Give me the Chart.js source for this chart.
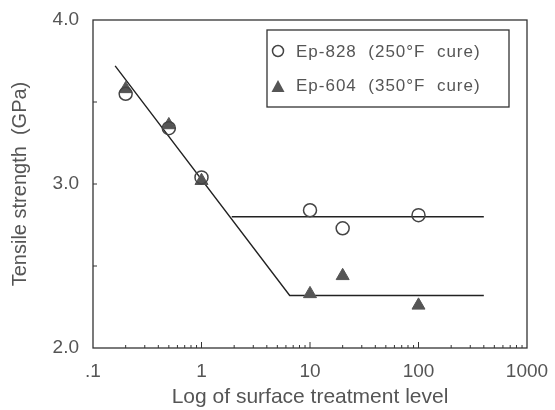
<!DOCTYPE html>
<html>
<head>
<meta charset="utf-8">
<script src="https://cdn.jsdelivr.net/npm/chart.js@4/dist/chart.umd.min.js"></script>
<style>
  html, body { margin: 0; padding: 0; background: #fff; }
  #wrap { width: 555px; height: 410px; }
</style>
</head>
<body>
<div id="wrap"><canvas id="c" width="555" height="410"></canvas></div>
<script>
// measured points
const levels = [0.2, 0.5, 1, 10, 20, 100];
const ep828 = [3.55, 3.34, 3.04, 2.84, 2.73, 2.81];
const ep604 = [3.58, 3.36, 3.02, 2.33, 2.44, 2.26];

// fitted lines
const fit828X = [1.9, 400];
const fit828Y = [2.8, 2.8];
const fit604X = [0.16, 6.5, 400];
const fit604Y = [3.72, 2.32, 2.32];

const xTickValues = [0.1, 1, 10, 100, 1000];
const xTickLabels = ['.1', '1', '10', '100', '1000'];
const yTickValues = [2.0, 3.0, 4.0];

const seriesNames = ['Ep-828  (250°F  cure)', 'Ep-604  (350°F  cure)'];

const toPts = (xs, ys) => xs.map((x, i) => ({ x: x, y: ys[i] }));

const INK = '#333';
const TXT = '#555';
const FONT = '"Liberation Sans", Arial, sans-serif';

// inward ticks, box and legend
const decor = {
  id: 'decor',
  afterDatasetsDraw(chart) {
    const ctx = chart.ctx;
    const a = chart.chartArea;
    const xs = chart.scales.x, ys = chart.scales.y;
    ctx.save();
    ctx.strokeStyle = INK;
    ctx.lineWidth = 1.3;
    ctx.strokeRect(a.left, a.top, a.right - a.left, a.bottom - a.top);

    ctx.lineWidth = 1;
    // x minor/major ticks
    for (let e = -1; e < 3; e++) {
      for (let m = 1; m <= 9; m++) {
        const v = m * Math.pow(10, e);
        if (v <= 0.1 || v >= 1000) continue;
        const px = xs.getPixelForValue(v);
        const len = m === 1 ? 6 : 3;
        ctx.beginPath();
        ctx.moveTo(px, a.bottom);
        ctx.lineTo(px, a.bottom - len);
        ctx.stroke();
      }
    }
    // y ticks
    [2.5, 3.0, 3.5].forEach(v => {
      const py = ys.getPixelForValue(v);
      ctx.beginPath();
      ctx.moveTo(a.left, py);
      ctx.lineTo(a.left + 4, py);
      ctx.stroke();
    });

    // legend box
    const bx = 267, by = 30, bw = 242, bh = 77;
    ctx.lineWidth = 1.3;
    ctx.strokeRect(bx, by, bw, bh);
    ctx.font = '17px ' + FONT;
    ctx.letterSpacing = '1px';
    ctx.fillStyle = TXT;
    ctx.textBaseline = 'middle';
    ctx.fillText(seriesNames[0], 296, 52);
    ctx.fillText(seriesNames[1], 296, 86);
    // circle marker
    ctx.beginPath();
    ctx.arc(278, 51, 5.5, 0, Math.PI * 2);
    ctx.strokeStyle = '#444';
    ctx.lineWidth = 1.5;
    ctx.stroke();
    // triangle marker
    ctx.beginPath();
    ctx.moveTo(278, 80);
    ctx.lineTo(284.5, 92);
    ctx.lineTo(271.5, 92);
    ctx.closePath();
    ctx.fillStyle = '#555';
    ctx.fill();
    ctx.restore();
  }
};

new Chart(document.getElementById('c'), {
  type: 'scatter',
  data: {
    datasets: [
      {
        label: 'fit604',
        data: toPts(fit604X, fit604Y),
        showLine: true,
        borderColor: '#222',
        borderWidth: 1.4,
        pointRadius: 0,
        order: 3
      },
      {
        label: 'fit828',
        data: toPts(fit828X, fit828Y),
        showLine: true,
        borderColor: '#222',
        borderWidth: 1.4,
        pointRadius: 0,
        order: 3
      },
      {
        label: seriesNames[1],
        data: toPts(levels, ep604),
        pointStyle: 'triangle',
        pointRadius: 7.5,
        backgroundColor: '#555',
        borderColor: '#555',
        borderWidth: 1,
        order: 2
      },
      {
        label: seriesNames[0],
        data: toPts(levels, ep828),
        pointStyle: 'circle',
        pointRadius: 6.5,
        backgroundColor: 'rgba(255,255,255,0)',
        borderColor: '#444',
        borderWidth: 1.5,
        order: 1
      }
    ]
  },
  options: {
    responsive: false,
    animation: false,
    layout: { padding: { top: 20, right: 28, left: 8, bottom: 0 } },
    plugins: { legend: { display: false }, tooltip: { enabled: false } },
    scales: {
      x: {
        type: 'logarithmic',
        min: 0.1,
        max: 1000,
        grid: { display: false },
        border: { display: false },
        afterBuildTicks(s) { s.ticks = xTickValues.map(v => ({ value: v })); },
        afterFit(s) { s.height = 62; },
        ticks: {
          autoSkip: false,
          maxRotation: 0,
          padding: 4,
          color: TXT,
          font: { family: FONT, size: 19 },
          callback: (v) => {
            const i = xTickValues.indexOf(v);
            return i >= 0 ? xTickLabels[i] : '';
          }
        },
        title: {
          display: true,
          text: 'Log of surface treatment level',
          color: TXT,
          font: { family: FONT, size: 21 },
          padding: { top: 0, bottom: 0 }
        }
      },
      y: {
        min: 2.0,
        max: 4.0,
        grid: { display: false },
        border: { display: false },
        afterBuildTicks(s) { s.ticks = yTickValues.map(v => ({ value: v })); },
        afterFit(s) { s.width = 85; },
        ticks: {
          padding: 6,
          color: TXT,
          font: { family: FONT, size: 19 },
          callback: (v) => v.toFixed(1)
        },
        title: {
          display: true,
          text: 'Tensile strength  (GPa)',
          color: TXT,
          font: { family: FONT, size: 20 },
          padding: { top: 0, bottom: 2 }
        }
      }
    }
  },
  plugins: [decor]
});
</script>
</body>
</html>
